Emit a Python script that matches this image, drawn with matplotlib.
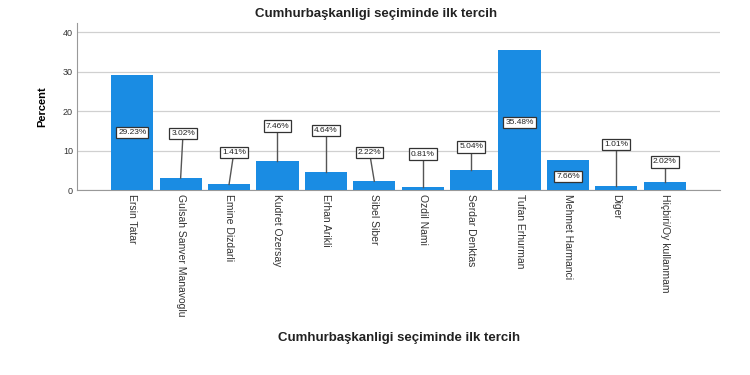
import matplotlib
matplotlib.use("Agg")
import matplotlib.pyplot as plt

plt.rcParams["font.family"] = ["Liberation Sans", "DejaVu Sans"]

categories = ["Ersin Tatar", "Gulsah Sanver Manavoglu", "Emine Dizdarli", "Kudret Ozersay",
              "Erhan Arikli", "Sibel Siber", "Ozdil Nami", "Serdar Denktas", "Tufan Erhurman",
              "Mehmet Harmanci", "Diger", "Hiçbiri/Oy kullanmam"]
percent = [29.23, 3.02, 1.41, 7.46, 4.64, 2.22, 0.81, 5.04, 35.48, 7.66, 1.01, 2.02]
value_labels = ["29.23%", "3.02%", "1.41%", "7.46%", "4.64%", "2.22%", "0.81%", "5.04%",
                "35.48%", "7.66%", "1.01%", "2.02%"]
y_ticks = [0, 10, 20, 30, 40]

# label box placement (layout only)
label_y = [14.5, 14.4, 9.6, 16.2, 15.0, 9.6, 9.1, 10.9, 17.2, 3.5, 11.6, 7.1]
label_dx = [0, 0.05, 0.1, 0, 0, -0.1, 0, 0, 0, 0, 0, 0]
inside = [True, False, False, False, False, False, False, False, True, True, False, False]

fig = plt.figure(figsize=(7.5, 3.75), dpi=100)
ax = fig.add_axes([0.1027, 0.4933, 0.8573, 0.4454])

x = list(range(len(categories)))
ax.bar(x, percent, width=0.87, color="#1a8ce3", zorder=3)

for xi, v, lab, ly, dx, ins in zip(x, percent, value_labels, label_y, label_dx, inside):
    if not ins:
        ax.plot([xi + dx, xi], [ly, v], color="#555555", lw=1.0, zorder=4)
    ax.text(xi + dx, ly, lab, ha="center", va="center", fontsize=6, color="#222222", zorder=5,
            bbox=dict(boxstyle="square,pad=0.25", fc="white", ec="#333333", lw=0.9))

ax.set_xlim(-1.14, 12.14)
ax.set_ylim(0, 42.3)
ax.set_yticks(y_ticks)
ax.set_yticklabels([str(t) for t in y_ticks], fontsize=6.5, color="#333333")
ax.set_xticks(x)
ax.set_xticklabels(categories, rotation=270, fontsize=7.5, color="#333333", va="top", ha="center")
ax.tick_params(axis="both", length=0, pad=3)
ax.grid(axis="y", color="#d0d0d0", lw=0.9, zorder=0)
for s in ["top", "right"]:
    ax.spines[s].set_visible(False)
ax.spines["left"].set_color("#999999")
ax.spines["bottom"].set_color("#999999")

ax.set_ylabel("Percent", fontsize=8, fontweight="bold", labelpad=11)
fig.text(0.502, 0.962, "Cumhurbaşkanligi seçiminde ilk tercih", ha="center", va="center",
         fontsize=9.5, fontweight="bold", color="#222222")
fig.text(0.532, 0.098, "Cumhurbaşkanligi seçiminde ilk tercih", ha="center", va="center",
         fontsize=9.5, fontweight="bold", color="#222222")

fig.savefig("out.png", dpi=100, facecolor="white")
